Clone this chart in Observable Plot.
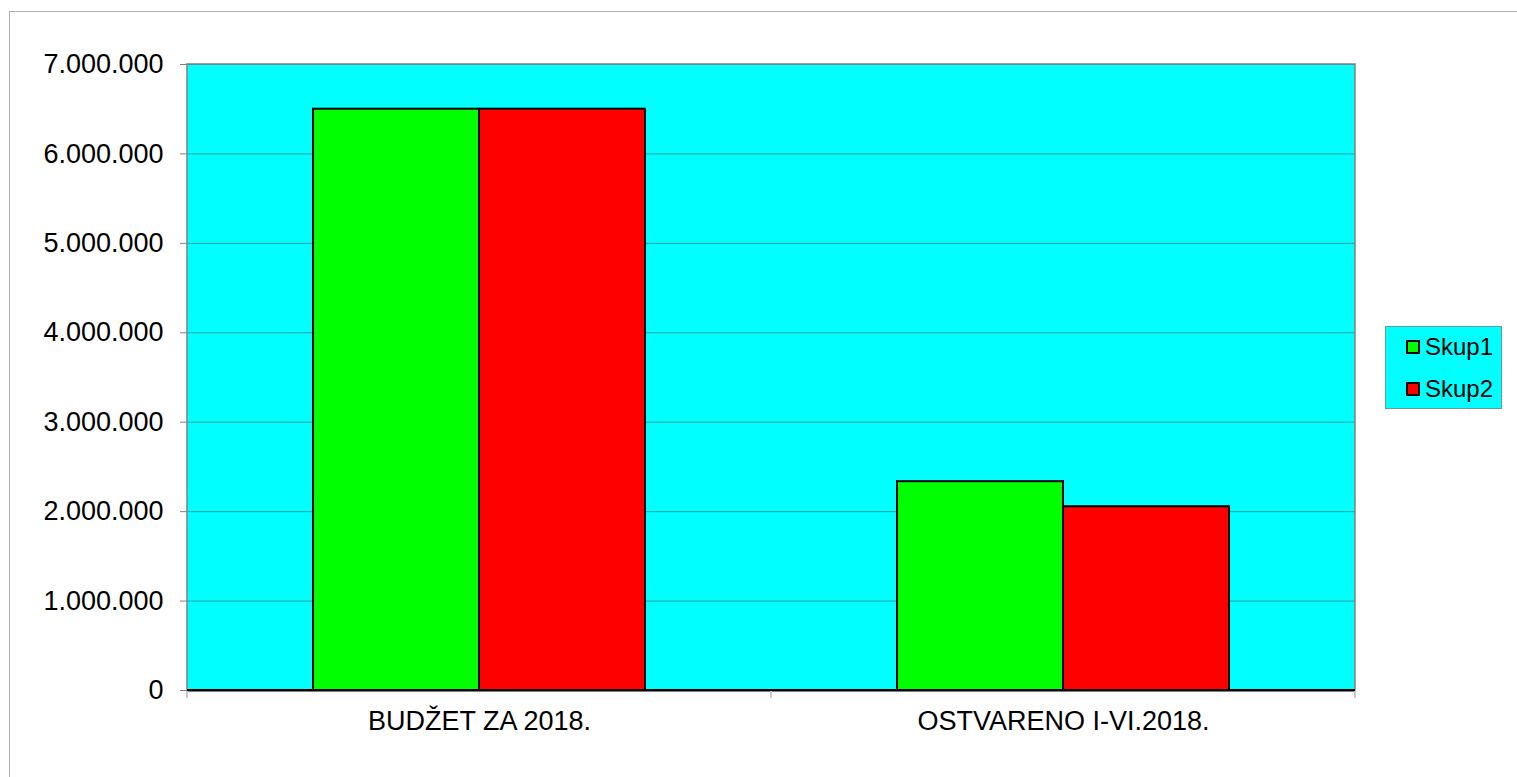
<!DOCTYPE html>
<html>
<head>
<meta charset="utf-8">
<script src="https://cdn.jsdelivr.net/npm/d3@7"></script>
<script src="https://cdn.jsdelivr.net/npm/@observablehq/plot@0.6"></script>
<style>
  html, body { margin: 0; padding: 0; background: #fff; overflow: hidden; }
  #wrap { position: relative; width: 1517px; height: 777px; }
  #outer { position: absolute; left: 9px; top: 11px; width: 1600px; height: 900px; border: 1px solid #b0b0b0; box-sizing: border-box; }
  #chart { position: absolute; left: 0; top: 0; }
  #legend { position: absolute; left: 1385px; top: 326px; width: 117px; height: 83px; box-sizing: border-box;
            background: #00ffff; border: 1px solid #5f9f9f; font-family: "Liberation Sans", Arial, sans-serif; font-size: 24px; color: #000; }
  .item { position: absolute; left: 20px; height: 28px; display: flex; align-items: center; }
  .sw { width: 10px; height: 10px; border: 2px solid #000; margin-right: 5px; }
</style>
</head>
<body>
<div id="wrap">
  <div id="outer"></div>
  <div id="chart"></div>
  <div id="legend"></div>
</div>
<script>
const categories = ["BUDŽET ZA 2018.", "OSTVARENO I-VI.2018."];
const series = ["Skup1", "Skup2"];
const skup1 = [6500000, 2335000];
const skup2 = [6500000, 2055000];
const seriesColors = ["#00ff00", "#ff0000"];
const yTicks = [0, 1000000, 2000000, 3000000, 4000000, 5000000, 6000000, 7000000];

const data = [];
categories.forEach((c, i) => {
  data.push({category: c, series: series[0], value: skup1[i]});
  data.push({category: c, series: series[1], value: skup2[i]});
});

const fmt = d3.formatLocale({thousands: ".", grouping: [3], decimal: ",", currency: ["", ""]}).format(",d");

const chart = Plot.plot({
  width: 1517,
  height: 777,
  marginLeft: 187,
  marginRight: 162,
  marginTop: 64,
  marginBottom: 87,
  style: {fontFamily: "'Liberation Sans', Arial, sans-serif", fontSize: "27px", color: "#000", background: "transparent"},
  fx: {domain: categories, padding: 0, label: null, axis: "bottom", tickSize: 0, tickPadding: 20},
  x: {domain: series, paddingInner: 0, paddingOuter: 0.754, axis: null},
  y: {domain: [0, 7000000], ticks: yTicks, tickFormat: fmt, tickSize: 7, tickPadding: 17, label: null},
  color: {domain: series, range: seriesColors},
  marks: [
    Plot.gridY(yTicks, {stroke: "#2e9e9e", strokeOpacity: 1, strokeWidth: 1}),
    Plot.barY(data, {fx: "category", x: "series", y: "value", fill: "series", stroke: "#000", strokeWidth: 2}),
    Plot.ruleY([0], {stroke: "#000", strokeWidth: 2})
  ]
});

document.getElementById("chart").appendChild(chart);

// plot-area background, border and category boundary ticks, placed with the plot's own scales
const fxS = chart.scale("fx");
const yS = chart.scale("y");
const svg = d3.select(chart);
const x0 = fxS.apply(categories[0]);
const x1 = fxS.apply(categories[categories.length - 1]) + fxS.bandwidth;
const yTop = yS.apply(7000000), yBot = yS.apply(0);
svg.insert("rect", ":first-child").attr("x", x0).attr("y", yTop).attr("width", x1 - x0).attr("height", yBot - yTop)
  .attr("fill", "#00ffff");
svg.selectAll("g[aria-label='y-axis tick'] path, g[aria-label='y-axis'] path").attr("stroke", "#808080");
svg.append("rect").attr("x", x0).attr("y", yTop).attr("width", x1 - x0).attr("height", yBot - yTop)
  .attr("fill", "none").attr("stroke", "#808080").attr("stroke-width", 1.5);
svg.append("line").attr("x1", x0).attr("x2", x1).attr("y1", yBot).attr("y2", yBot).attr("stroke", "#000").attr("stroke-width", 2);
const bounds = categories.map(c => fxS.apply(c)).concat([x1]);
svg.selectAll("line.bt").data(bounds).join("line").attr("class", "bt")
  .attr("x1", d => d).attr("x2", d => d).attr("y1", yBot + 1).attr("y2", yBot + 8)
  .attr("stroke", "#c8c8c8").attr("stroke-width", 2);

// legend
const legend = document.getElementById("legend");
series.forEach((s, i) => {
  const it = document.createElement("div");
  it.className = "item";
  it.style.top = (6 + i * 42) + "px";
  const sw = document.createElement("div");
  sw.className = "sw";
  sw.style.background = seriesColors[i];
  const t = document.createElement("span");
  t.textContent = s;
  it.appendChild(sw); it.appendChild(t);
  legend.appendChild(it);
});
</script>
</body>
</html>
